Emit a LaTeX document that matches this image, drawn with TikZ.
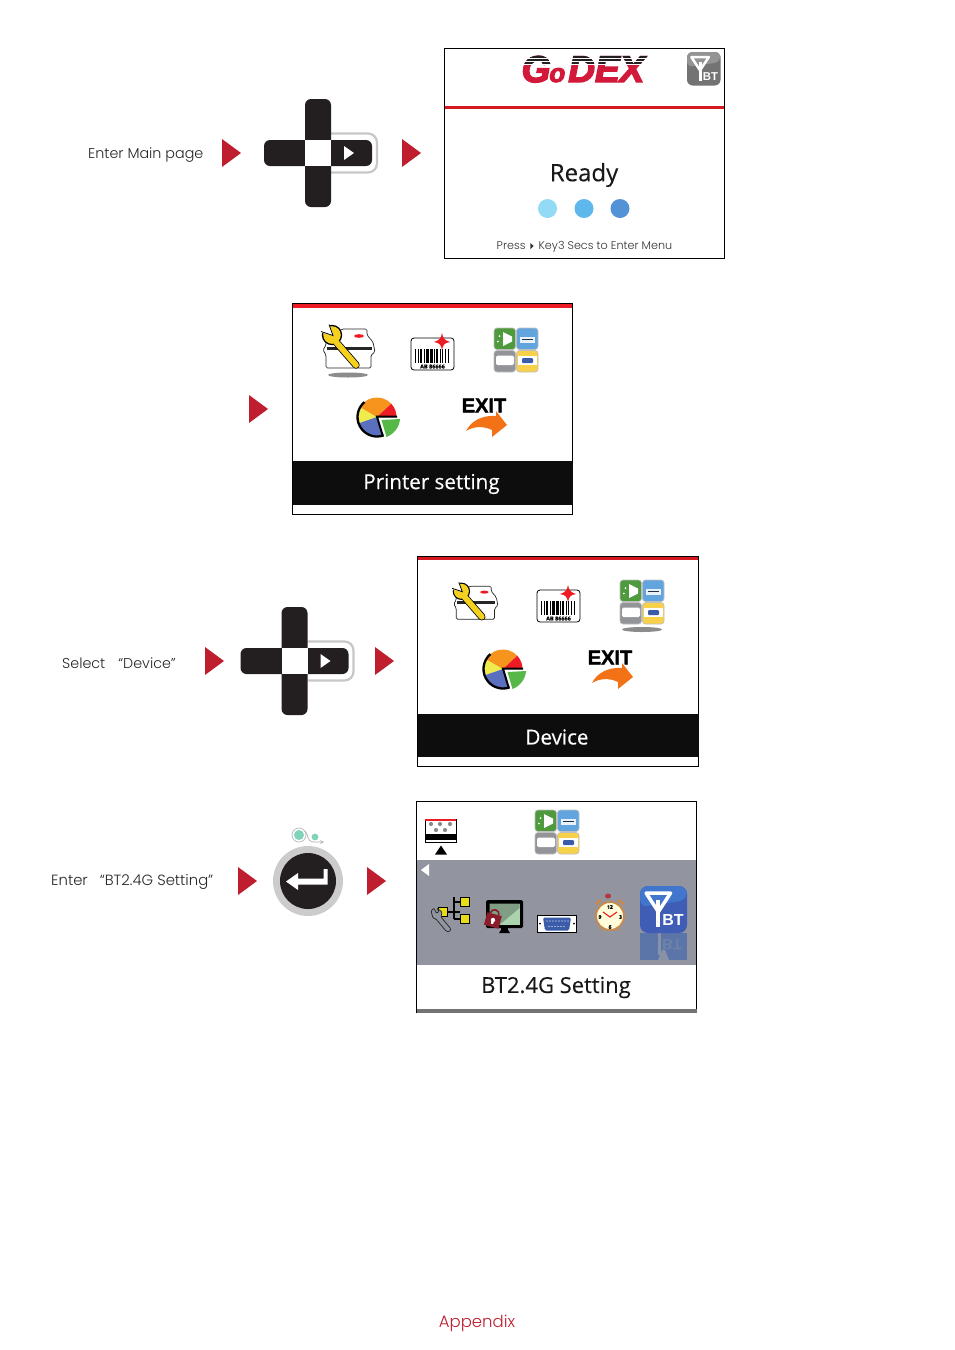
\documentclass[tikz,border=0pt]{standalone}
\usepackage{fontspec}
\setmainfont[FakeBold=0.3]{Open Sans}
\newfontfamily\labfont{Poppins Light}
\newfontfamily\logofont{Liberation Sans}
\newfontfamily\logoheavy[BoldItalicFeatures={FakeBold=4}]{Liberation Sans}
\newfontfamily\exitfont[BoldFeatures={FakeBold=1.6}]{Liberation Sans}
\definecolor{crim}{HTML}{BE1E2D}
\definecolor{pad}{HTML}{231F20}
\definecolor{bandgray}{HTML}{9295A0}
\definecolor{logored}{HTML}{D2193A}
\definecolor{barred}{HTML}{ED1C24}
\definecolor{sqgreen}{HTML}{4E9A3C}
\definecolor{sqblue}{HTML}{62A5DE}
\definecolor{sqgray}{HTML}{929497}
\definecolor{sqyellow}{HTML}{F8D14A}
\definecolor{wrench}{HTML}{F4D11E}
\definecolor{serialblue}{HTML}{3B5CA8}
\definecolor{pieorange}{HTML}{F7941D}
\definecolor{pieyellow}{HTML}{F1EC4E}
\definecolor{pieblue}{HTML}{5A6FBE}
\definecolor{piegreen}{HTML}{56B947}
\definecolor{arroworange}{HTML}{F47216}
\definecolor{btblue}{HTML}{3F5DB5}
\definecolor{btblue2}{HTML}{4275CC}
\definecolor{clockring}{HTML}{C8894A}
\definecolor{locked}{HTML}{8A1C2B}
\definecolor{screen}{HTML}{AAD3AE}
\definecolor{dotone}{HTML}{92DAF6}
\definecolor{dottwo}{HTML}{5FB8EC}
\definecolor{dotthree}{HTML}{5392D6}
\definecolor{mint}{HTML}{7FD3B8}
\definecolor{reflbg}{HTML}{5C75A8}
\definecolor{reflfg}{HTML}{8892A6}
\definecolor{refltx}{HTML}{6F83A8}
\tikzset{
  redtri/.style={fill=crim,draw=none},
  panel/.style={draw=black,line width=0.9pt,fill=white},
  lab/.style={font=\labfont\fontsize{14.3}{17}\selectfont,text=black!85,inner sep=0,anchor=west},
  bigtext/.style={font=\fontsize{20.6}{24}\selectfont,inner sep=0},
  padbar/.style={fill=pad,rounded corners=6pt},
  sqbox/.style={draw=black!25,line width=0.7pt,rounded corners=3pt},
}
\newcommand{\redtriangle}[2]{\fill[redtri] (#1,#2-14)--(#1+19,#2)--(#1,#2+14)--cycle;}
\newcommand{\dpad}[2]{\begin{scope}[shift={(#1,#2)}]
  \draw[draw=black!22,line width=2.2pt,rounded corners=9pt] (13,-19.5)--(59,-19.5)--(59,19.5)--(13,19.5);
  \fill[padbar] (-13,-54) rectangle (13,54);
  \fill[padbar] (-54,-13) rectangle (54,13);
  \fill[white] (-13,-13) rectangle (13,13);
  \fill[white] (26,-7)--(36,0)--(26,7)--cycle;
\end{scope}}
\newcommand{\bticon}[5]{\begin{scope}[shift={(#1,#2)},scale=#3]
  \pgfmathsetmacro{\btsize}{#3*0.34}
  \fill[#4,rounded corners=#3*0.17pt] (0,0) rectangle (1,1);
  \fill[#5,rounded corners=#3*0.17pt] (0,0)--(1,0)--(1,0.3)--(0,0.45)--cycle;
  \draw[white,line width=#3*0.075pt,line join=round] (0.13,0.15)--(0.65,0.15)--(0.39,0.55)--cycle;
  \draw[white,line width=#3*0.09pt] (0.39,0.3)--(0.39,0.87);
  \node[white,inner sep=0,font=\logofont\bfseries\fontsize{\btsize}{10}\selectfont] at (0.7,0.72) {BT};
\end{scope}}
\newcommand{\toolsicon}[4]{\begin{scope}[shift={(#1,#2)},scale=#3,shift={(-348,-350)}]
  \ifnum#4=1 \fill[black!45] (348,375) ellipse (20 and 2.5);\fi
  \draw[fill=white,draw=black!85,line width=0.7pt,rounded corners=1.5pt] (342,329)--(367,329)--(367,335)--(373,342)--(375,352)--(371,355)--(371,368)--(326,368)--(326,355)--(323,350)--(326,345)--(326,340)--cycle;
  \fill[black!85] (327,346.8) rectangle (372,349.5);
  \fill[barred] (359,336) ellipse (5 and 1.8);
  \draw[black,line width=7.4pt,line cap=round] (336,342)--(356,365);
  \fill[black] (332,335) circle (10.2);
  \fill[wrench] (332,335) circle (8.8);
  \draw[wrench,line width=5.8pt,line cap=round] (336,342)--(356,365);
  \fill[white] (333.5,336)--(329,323)--(319,323)--(319,332)--cycle;
  \draw[black,line width=0.8pt] (321,331.5)--(333,335.5)--(329,324.5);
\end{scope}}
\newcommand{\barcodeicon}[2]{\begin{scope}[shift={(#1,#2)}]
  \draw[fill=white,draw=black,line width=0.8pt,rounded corners=3pt] (0,1)--(43,1)--(43,33)--(0,33)--cycle;
  \foreach \bx/\bw in {4/1.4,7/0.8,9/2,12.5/0.8,15/3,19/2.6,23/0.8,25/2.2,29/0.8,31/1.4,34/0.8,37/1.4}
    \fill[black] (\bx,12) rectangle (\bx+\bw,26);
  \node[inner sep=0,font=\bfseries\fontsize{5.5}{6}\selectfont] at (21.5,29.5) {AB 86666};
  \fill[barred] (31,-4) .. controls (32,1) and (33,3) .. (39,5) .. controls (33,6) and (32,8) .. (31,13) .. controls (30,8) and (29,6) .. (23,5) .. controls (29,3) and (30,1) .. (31,-4)--cycle;
\end{scope}}
\newcommand{\squaresicon}[3]{\begin{scope}[shift={(#1,#2)}]
  \ifnum#3=1 \fill[black!45] (22,49.5) ellipse (20 and 2.5);\fi
  \draw[sqbox,fill=sqgreen] (0,0) rectangle (21.5,21.5);
  \fill[white] (9,4)--(18,8.5)--(18,13.5)--(9,18)--cycle;
  \fill[white] (5.5,8) circle (1) (3.8,13.5) circle (1);
  \draw[sqbox,fill=sqblue] (22.5,0) rectangle (44,21.5);
  \fill[white!85!sqblue] (26,9) rectangle (41,15);
  \fill[black!70!sqblue] (28,11) rectangle (39,12);
  \draw[sqbox,fill=sqgray] (0,22.5) rectangle (21.5,44);
  \fill[white,rounded corners=1.5pt] (2,27.5) rectangle (20,37);
  \draw[sqbox,fill=sqyellow] (22.5,22.5) rectangle (44,44);
  \fill[white] (23.5,28) rectangle (43,37);
  \fill[serialblue,rounded corners=1pt] (28,30) rectangle (39,35);
\end{scope}}
\newcommand{\pieicon}[2]{\begin{scope}[shift={(#1,#2)},yscale=-1]
  \fill[pieyellow] (0,0)--(150:19.5) arc (150:199:19.5)--cycle;
  \fill[pieorange] (0,0)--(43:19.5) arc (43:150:19.5)--cycle;
  \fill[barred] (0,0)--(0:19.5) arc (0:43:19.5)--cycle;
  \fill[pieblue] (0,0)--(199:19.5) arc (199:287:19.5)--cycle;
  \draw[black,line width=2.3pt] (130:19.5) arc (130:290:19.5);
  \draw[black,line width=2pt] (20,0.3)--(0,0.3)--(287:19.5);
  \fill[piegreen] (4.5,-3)--(23,-2) .. controls (22.5,-10) and (17,-17) .. (9.5,-20)--cycle;
\end{scope}}
\newcommand{\exiticon}[2]{\begin{scope}[shift={(#1,#2)}]
  \node[inner sep=0,font=\exitfont\bfseries\fontsize{20}{20}\selectfont] at (22,0.5) {EXIT};
  \fill[arroworange] (45,20)--(34,6)--(34,11) .. controls (20,10) and (9,16) .. (4,26) .. controls (12,21) and (22,21) .. (30,25)--(30,32)--cycle;
\end{scope}}
\newcommand{\logotext}{G\kern-1pt{\fontsize{26}{27}\selectfont o}\kern3pt DEX}
\begin{document}
\begin{tikzpicture}[x=1pt,y=-1pt]
\useasboundingbox (0,0) rectangle (954,1350);
\fill[white] (0,0) rectangle (954,1350);
% Row 1
\node[lab] (l1) at (88,155.3) {Enter Main page};
\redtriangle{222}{153}
\dpad{318}{153}
\redtriangle{402}{153}
\draw[panel] (444.5,48.5) rectangle (724.5,258.5);
\fill[barred!90!black] (445,106) rectangle (724,108.8);
\node[inner sep=0,text=logored,font=\logoheavy\bfseries\itshape\fontsize{37}{38}\selectfont,anchor=base] (logo) at (583,82) {\logotext};
\begin{scope}
\clip (510,52) rectangle (655,64);
\node[inner sep=0,text=pad,font=\logoheavy\bfseries\itshape\fontsize{37}{38}\selectfont,anchor=base] (logotop) at (583,82) {\logotext};
\end{scope}
\foreach \yy in {58,61,64} \fill[white] (515,\yy) rectangle (650,\yy+0.9);
\bticon{687}{52}{33.5}{black!55}{black!42}
\node[inner sep=0,font=\fontsize{24}{26}\selectfont,text=black!90] (ready) at (584,175) {Ready};
\fill[dotone] (547.5,208.5) circle (9.5);
\fill[dottwo] (584,208.5) circle (9.5);
\fill[dotthree] (620,208.5) circle (9.5);
\node[inner sep=0,text=black!80,font=\labfont\fontsize{11.2}{12}\selectfont] (press) at (584.5,247) {Press \,\tikz[baseline=-0.1ex]\fill[black!80] (0,0)--(0,6pt)--(3.2pt,3pt)--cycle;\, Key3 Secs to Enter Menu};
% Row 2
\redtriangle{249}{409}
\draw[panel] (292.5,303.5) rectangle (572.5,514.5);
\fill[barred] (293,304) rectangle (572,308);
\toolsicon{348}{350}{1}{1}
\barcodeicon{411}{337}
\squaresicon{494}{328}{0}
\pieicon{377}{417}
\exiticon{462}{405}
\fill[black!95] (293,461) rectangle (572.5,505);
\node[bigtext,text=white] (ps) at (431.5,484) {Printer setting};
% Row 3
\node[lab] (l2) at (62,663) {Select\hspace{13pt}“Device”};
\redtriangle{205}{661}
\dpad{294.5}{661}
\redtriangle{375}{661}
\draw[panel] (417.5,556.5) rectangle (698.5,766.5);
\fill[barred!90!black] (418,557) rectangle (698,560);
\toolsicon{475}{604}{0.85}{0}
\barcodeicon{537}{589}
\squaresicon{620}{580}{1}
\pieicon{503}{669}
\exiticon{588}{657}
\fill[black!95] (418,714) rectangle (698.5,757);
\node[bigtext,text=white] (dv) at (557,737) {Device};
% Row 4
\node[lab,font=\labfont\fontsize{14.8}{17}\selectfont] (l3) at (51,882) {Enter\hspace{12pt}“BT2.4G Setting”};
\redtriangle{238}{881}
\fill[black!20] (308,881) circle (35);
\fill[pad] (308,881) circle (28);
\fill[white] (286,881.5)--(298,873)--(298,878.5)--(323.5,878.5)--(323.5,869)--(327.5,869)--(327.5,884.5)--(298,884.5)--(298,890)--cycle;
\draw[black!25,line width=0.8pt] (299,835) circle (7);
\fill[mint] (299,835) circle (5);
\fill[mint] (315,837) circle (3.4);
\draw[black!30,line width=0.7pt,->,>=stealth] (305,831) .. controls (308,833) and (307,842) .. (313,842)--(324,842);
\redtriangle{367}{881}
\draw[panel] (416.5,801.5) rectangle (696.5,1012.5);
\fill[bandgray] (417,860) rectangle (696,965);
\fill[black!55] (417,1009) rectangle (696.5,1013);
% small panel
\draw[black,line width=0.7pt,fill=white] (425,819) rectangle (456,842);
\fill[barred] (425,819) rectangle (456,820.8);
\foreach \dx/\dy in {431/824,440/824,450/824,436/830,445/830} \fill[black!45] (\dx,\dy) circle (2.1);
\fill[black] (425,834) rectangle (456,840);
\fill[black] (435,854.5)--(441,845.5)--(447,854.5)--cycle;
\squaresicon{535}{810}{0}
\fill[white] (429,864)--(421,870)--(429,876)--cycle;
% network
\draw[black,line width=1.4pt] (454,897)--(454,919);
\draw[black,line width=1.4pt] (447,912)--(460,912) (454,902)--(460,902) (454,919)--(460,919);
\draw[black,fill=yellow!90!black,line width=1pt] (438,907) rectangle (447,916);
\draw[black,fill=yellow!90!black,line width=1pt] (460,897) rectangle (469,906);
\draw[black,fill=yellow!90!black,line width=1pt] (460,914) rectangle (469,923);
\draw[black!85,fill=bandgray,line width=0.7pt,rounded corners=1pt] (431,911)--(434,908)--(436,913)--(439,912)--(437,908)--(442,912)--(441,917)--(451,929)--(449,932)--(446,931)--(436,919)--(433,918)--cycle;
% monitor
\fill[black,rounded corners=1.5pt] (486,900) rectangle (523,928);
\fill[screen] (489.5,903.5) rectangle (519.5,924.5);
\fill[screen!75!black] (489.5,903.5)--(519.5,903.5)--(519.5,908)--(500,924.5)--(489.5,924.5)--cycle;
\fill[black] (501,928) rectangle (508,930);
\fill[black] (499,933)--(501,930)--(508,930)--(510,933)--cycle;
\begin{scope}[shift={(493,920)},rotate=-15]
\fill[locked] (-7.5,-6) rectangle (7.5,7);
\draw[locked,line width=1.6pt] (-4.5,-6) arc (180:360:4.5);
\fill[white] (0,0) circle (2.2);
\fill[white] (-1.2,0) rectangle (1.2,4);
\end{scope}
% serial
\draw[black,fill=white,line width=0.5pt] (537,915.5) rectangle (576.5,932.5);
\fill[serialblue,rounded corners=1.5pt] (543,917.5)--(571,917.5)--(569,930.5)--(545,930.5)--cycle;
\foreach \dx in {547,550,...,568} \fill[white] (\dx,921) circle (0.6);
\foreach \dx in {549,552,...,566} \fill[white] (\dx,926.5) circle (0.6);
\fill[black] (540,923.5) circle (1);\fill[black] (574,923.5) circle (1);
% clock
\fill[barred!70!black!85!white] (608,896) ellipse (3 and 2.5);
\draw[clockring,line width=2.5pt] (596,904)--(601,900) (624,904)--(618,900);
\draw[clockring,line width=1.4pt] (601,931)--(603,928) (619,931)--(617,928);
\draw[clockring,fill=yellow!15!white,line width=1.8pt] (610,916) circle (14);
\node[inner sep=0,font=\bfseries\fontsize{5}{5}\selectfont] at (610,907) {12};
\node[inner sep=0,font=\bfseries\fontsize{5}{5}\selectfont] at (620.5,917) {3};
\node[inner sep=0,font=\bfseries\fontsize{5}{5}\selectfont] at (610,927) {6};
\node[inner sep=0,font=\bfseries\fontsize{5}{5}\selectfont] at (600,917) {9};
\draw[barred,line width=1.1pt] (603,912)--(610,917)--(617,912);
% big BT
\begin{scope}
\clip (640,933) rectangle (687,960);
\fill[reflbg] (640,933) rectangle (687,960);
\fill[reflfg] (658,960)--(662,950)--(665,950)--(669,960)--cycle;
\draw[reflfg,line width=3pt] (659,933)--(659,955);
\node[text=refltx,inner sep=0,font=\logofont\bfseries\fontsize{15}{15}\selectfont,yscale=-1] at (672,945) {BT};
\end{scope}
\bticon{640}{886}{47}{btblue}{btblue2}
\node[inner sep=0,text=black!90,font=\fontsize{22}{24}\selectfont] (bt) at (556,987.5) {BT2.4G Setting};
% footer
\node[inner sep=0,text=crim,font=\labfont\fontsize{16.5}{18}\selectfont] (app) at (477,1323.5) {Appendix};
\end{tikzpicture}
\end{document}
